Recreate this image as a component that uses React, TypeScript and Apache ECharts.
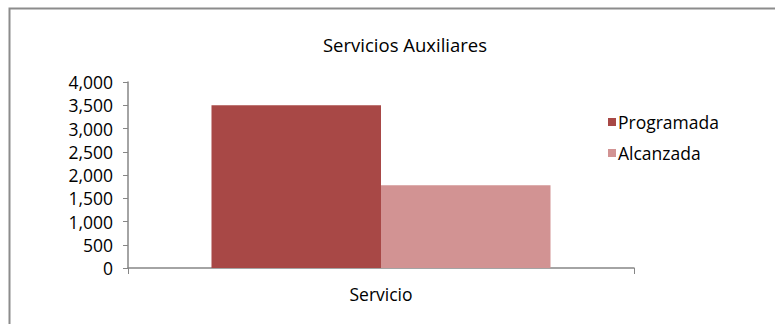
import React, { useEffect, useRef } from "react";
import * as echarts from "echarts";

const categories = ["Servicio"];
const programada = [3500];
const alcanzada = [1780];
const seriesNames = ["Programada", "Alcanzada"];

export default function App() {
  const ref = useRef<HTMLDivElement>(null);
  useEffect(() => {
    if (!ref.current) return;
    const chart = echarts.init(ref.current, undefined, { renderer: "svg" });
    const font = "Open Sans";
    chart.setOption({
      animation: false,
      textStyle: { fontFamily: font },
      title: {
        text: "Servicios Auxiliares",
        left: 400,
        textAlign: "center",
        top: 30,
        textStyle: { fontFamily: font, fontSize: 18.5, fontWeight: "normal", color: "#000" },
      },
      legend: {
        orient: "vertical",
        left: 603,
        top: 108,
        itemWidth: 8,
        itemHeight: 8,
        itemGap: 13,
        icon: "rect",
        textStyle: { fontFamily: font, fontSize: 17.5, color: "#000", padding: [0, 0, 0, -3] },
        data: seriesNames,
      },
      grid: { left: 128, right: 141, top: 82, bottom: 56, containLabel: false },
      xAxis: {
        type: "category",
        data: categories,
        axisLine: { lineStyle: { color: "#868686", width: 1.5 } },
        axisTick: { show: true, alignWithLabel: false, length: 6, lineStyle: { color: "#868686" } },
        axisLabel: { fontFamily: font, fontSize: 17.5, color: "#000", margin: 17 },
      },
      yAxis: {
        type: "value",
        min: 0,
        max: 4000,
        interval: 500,
        splitLine: { show: false },
        axisLine: { show: true, lineStyle: { color: "#868686", width: 1.5 } },
        axisTick: { show: true, length: 5, lineStyle: { color: "#868686" } },
        axisLabel: {
          fontFamily: font,
          fontSize: 17.5,
          color: "#000",
          margin: 15,
          formatter: (v: number) => v.toLocaleString("en-US"),
        },
      },
      series: [
        {
          name: seriesNames[0],
          type: "bar",
          data: programada,
          barGap: "0%",
          barCategoryGap: "33%",
          itemStyle: { color: "#A84846" },
        },
        {
          name: seriesNames[1],
          type: "bar",
          data: alcanzada,
          itemStyle: { color: "#D29393" },
        },
      ],
      graphic: [
        {
          type: "rect",
          shape: { x: 9.5, y: 8.5, width: 900, height: 500 },
          style: { fill: "none", stroke: "#8c8c8c", lineWidth: 2 },
          silent: true,
        },
      ],
    });
    return () => chart.dispose();
  }, []);
  return (
    <div
      ref={ref}
      style={{ position: "fixed", left: 0, top: 0, width: 775, height: 324, background: "#fff" }}
    />
  );
}
